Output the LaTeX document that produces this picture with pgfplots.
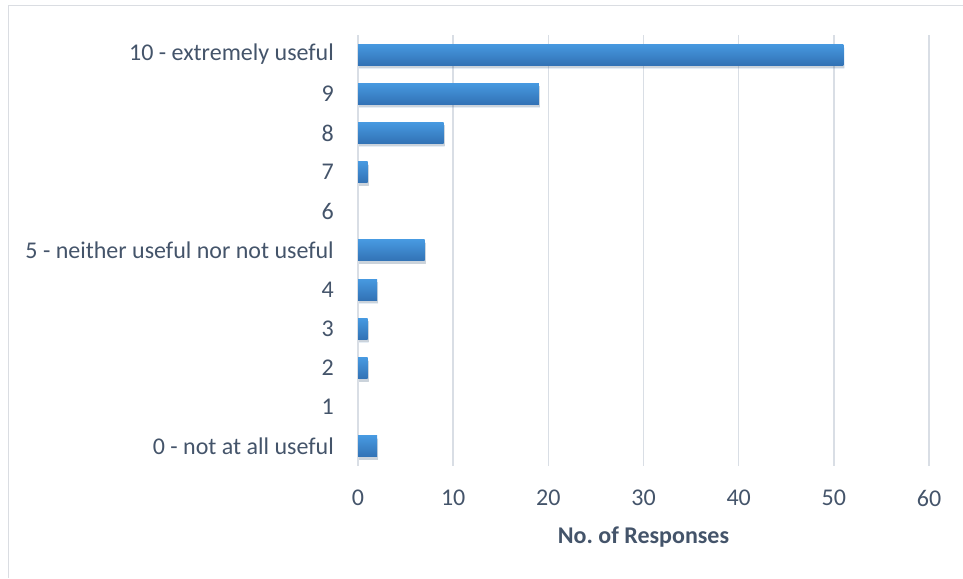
\documentclass[border=0pt]{standalone}
\usepackage{pgfplots}
\pgfplotsset{compat=1.18}
\usetikzlibrary{shadows}
\usepackage{fontspec}
\setmainfont{Carlito}
\definecolor{txt}{HTML}{44546A}
\definecolor{gridc}{HTML}{D9DEE5}
\definecolor{barT}{HTML}{4799E0}
\definecolor{barB}{HTML}{3272B5}
\definecolor{frame}{HTML}{DADDE2}
\pgfplotsset{mybar/.style={xbar, bar width=21pt, draw=none, mark=none, top color=barT, bottom color=barB,
    drop shadow={shadow xshift=1pt, shadow yshift=-3pt, opacity=0.12, fill=black}}}
\begin{document}
\begin{tikzpicture}[x=1pt,y=1pt]
\path[use as bounding box] (0,0) rectangle (963,578);
\draw[frame, line width=1.2pt] (8.5,0) -- (8.5,572.5) -- (963,572.5);
\begin{axis}[
  at={(358pt,112pt)}, anchor=south west,
  scale only axis, width=571pt, height=431pt,
  xmin=0, xmax=60, ymin=-0.5, ymax=10.5,
  xtick={0,10,...,60},
  ytick={0,...,10},
  yticklabels={0 - not at all useful,1,2,3,4,5 - neither useful nor not useful,6,7,8,9,10 - extremely useful},
  axis line style={draw=none},
  major tick length=0pt,
  xmajorgrids, grid style={gridc, line width=1.5pt},
  font=\fontsize{24}{28}\selectfont,
  tick label style={text=txt},
  /pgf/number format/assume math mode=true,
  yticklabel style={inner sep=0pt, anchor=east, xshift=-24pt},
  xticklabel style={inner sep=0pt, anchor=north, yshift=-24pt},
  xlabel={\textbf{No.\ of Responses}},
  xlabel style={text=txt, inner sep=0pt, anchor=north, at={(axis description cs:0.5,0)}, yshift=-61pt},
  clip=false,
]
% one plot per category so each bar gets its own gradient; categories 1 and 6 have value 0
\addplot[mybar] coordinates {(2,0)};
\addplot[mybar] coordinates {(1,2)};
\addplot[mybar] coordinates {(1,3)};
\addplot[mybar] coordinates {(2,4)};
\addplot[mybar] coordinates {(7,5)};
\addplot[mybar] coordinates {(1,7)};
\addplot[mybar] coordinates {(9,8)};
\addplot[mybar] coordinates {(19,9)};
\addplot[mybar] coordinates {(51,10)};
\end{axis}
\end{tikzpicture}
\end{document}
